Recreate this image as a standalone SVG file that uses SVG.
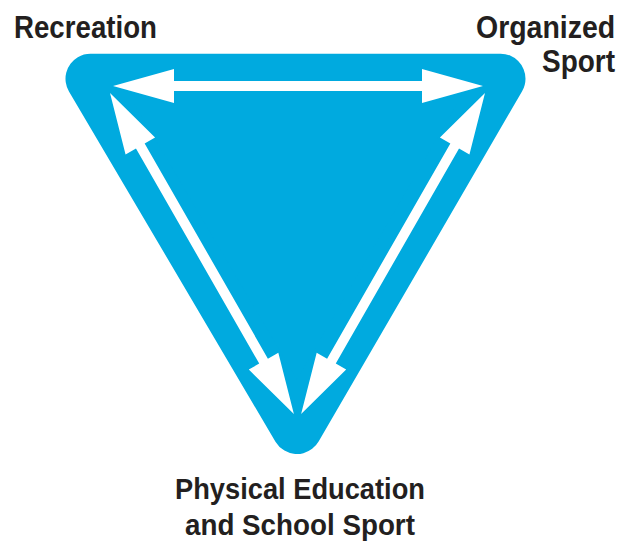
<svg xmlns="http://www.w3.org/2000/svg" width="621" height="541" viewBox="0 0 621 541">
<style>
.lbl{font-family:"Liberation Sans",Arial,sans-serif;font-weight:bold;fill:#231f20}
.arr{fill:#ffffff}
</style>
<defs>
<path id="dbl" d="M0,0 L61,-17 L61,-5 L309,-5 L309,-17 L370,0 L309,17 L309,5 L61,5 L61,17 Z"/>
</defs>
<g id="triangle">
<polygon points="90.5,78.7 500.5,78.7 297,429" fill="#00aadf" stroke="#00aadf" stroke-width="50" stroke-linejoin="round"/>
</g>
<g id="connectors" class="arr">
<use href="#dbl" transform="translate(113,86)"/>
<use href="#dbl" transform="translate(110,93) rotate(60.2)"/>
<use href="#dbl" transform="translate(485,93) rotate(119.8)"/>
</g>
<g id="recreation">
<text class="lbl" font-size="32" transform="translate(14,38) scale(0.865,1)">Recreation</text>
</g>
<g id="organized-sport">
<text class="lbl" font-size="32" transform="translate(476,38) scale(0.89,1)">Organized</text>
<text class="lbl" font-size="32" transform="translate(542,72) scale(0.875,1)">Sport</text>
</g>
<g id="physical-education">
<text class="lbl" font-size="30" transform="translate(175,499) scale(0.909,1)">Physical Education</text>
<text class="lbl" font-size="30" transform="translate(185,535) scale(0.926,1)">and School Sport</text>
</g>
</svg>
